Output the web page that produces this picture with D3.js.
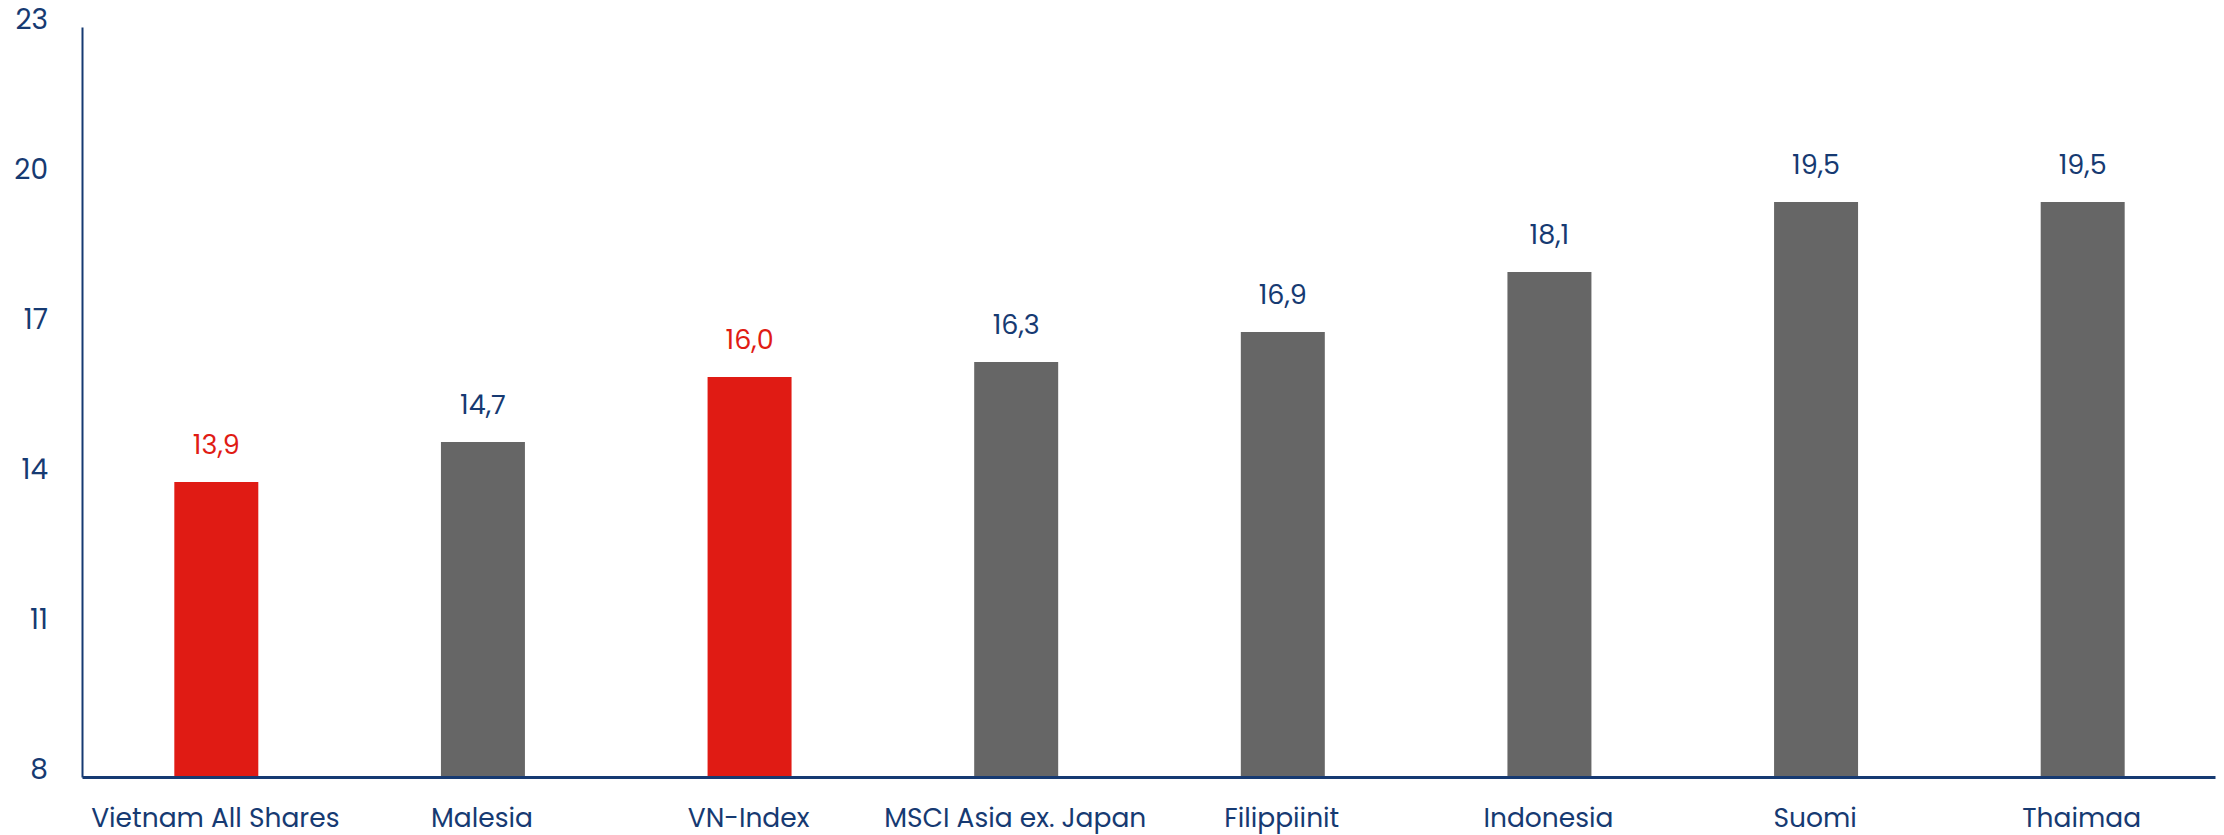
<!DOCTYPE html>
<html><head><meta charset="utf-8">
<script src="https://cdn.jsdelivr.net/npm/d3@7"></script>
<style>body{margin:0;background:#fff}svg{display:block}</style>
</head><body>
<svg id="c" width="2224" height="835"></svg>
<script>
const categories = ["Vietnam All Shares","Malesia","VN-Index","MSCI Asia ex. Japan","Filippiinit","Indonesia","Suomi","Thaimaa"];
const values = [13.9,14.7,16.0,16.3,16.9,18.1,19.5,19.5];
const highlighted = ["Vietnam All Shares","VN-Index"];
const yTicks = [8,11,14,17,20,23];

const navy = "#163a72", red = "#e01b14", gray = "#666666";
const svg = d3.select("#c");
const m = {l:82, r:9, t:27, b:58};
const W = 2224, H = 835;
const x = d3.scaleBand().domain(categories).range([m.l, W - m.r]).paddingInner(0.685).paddingOuter(0.3425);
const y = d3.scaleLinear().domain([8,23]).range([H - m.b, m.t]);
const font = "Poppins, 'Open Sans', sans-serif";

svg.append("g").selectAll("rect").data(categories).join("rect")
  .attr("x", d => x(d) + 1).attr("width", x.bandwidth())
  .attr("y", (d,i) => y(values[i])).attr("height", (d,i) => y(8) - y(values[i]))
  .attr("fill", d => highlighted.includes(d) ? red : gray);

svg.append("g").selectAll("text").data(categories).join("text")
  .attr("x", d => x(d) + x.bandwidth()/2 + 1)
  .attr("y", (d,i) => y(values[i]) - 28)
  .attr("text-anchor","middle")
  .attr("font-family", font).attr("font-size", 27)
  .attr("fill", d => highlighted.includes(d) ? red : navy)
  .text((d,i) => values[i].toFixed(1).replace(".", ","));

// axes
const yAxis = d3.axisLeft(y).tickValues(yTicks).tickSize(0).tickPadding(34).tickFormat(d3.format("d"));
const gy = svg.append("g").attr("transform", `translate(${m.l},0)`).call(yAxis);
gy.select(".domain").attr("stroke", navy).attr("stroke-width", 2);
gy.selectAll("text").attr("font-family", font).attr("font-size", 28)
  .attr("fill", navy).attr("dy", "0.05em");

const xAxis = d3.axisBottom(x).tickSize(0).tickPadding(31);
const gx = svg.append("g").attr("transform", `translate(0,${y(8)})`).call(xAxis);
gx.select(".domain").attr("stroke", navy).attr("stroke-width", 3);
gx.selectAll("text").attr("font-family", font).attr("font-size", 26.5).attr("fill", navy);
</script>
</body></html>
